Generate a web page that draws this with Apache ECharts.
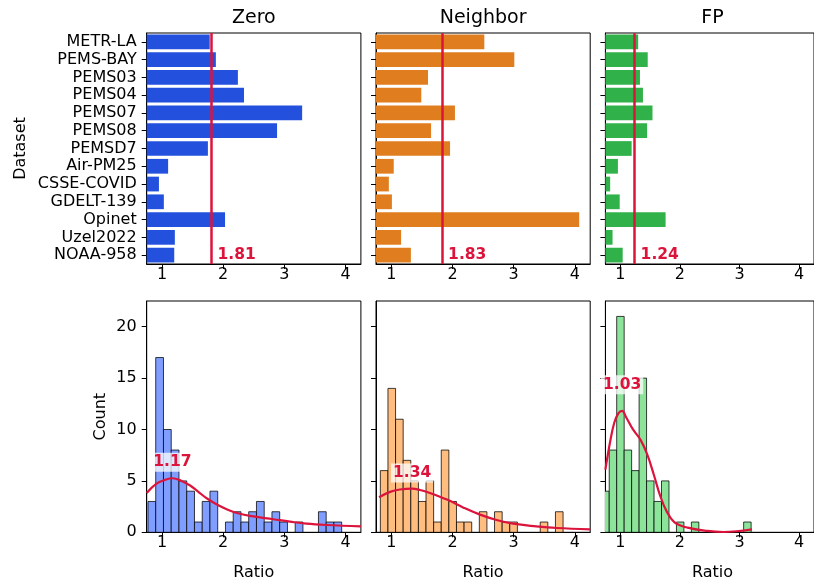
<!DOCTYPE html>
<html>
<head>
<meta charset="utf-8">
<script src="https://cdn.jsdelivr.net/npm/echarts@6/dist/echarts.min.js"></script>
<style>
  html, body { margin: 0; padding: 0; background: #fff; }
  #chart { width: 814px; height: 585px; }
</style>
</head>
<body>
<div id="chart"></div>
<script>
// ---- data ----------------------------------------------------------------
const datasets = ['METR-LA', 'PEMS-BAY', 'PEMS03', 'PEMS04', 'PEMS07', 'PEMS08', 'PEMSD7',
  'Air-PM25', 'CSSE-COVID', 'GDELT-139', 'Opinet', 'Uzel2022', 'NOAA-958'];
const methods = ['Zero', 'Neighbor', 'FP'];

// per-dataset ratio for each imputation method
const zeroRatio     = [1.78, 1.88, 2.24, 2.34, 3.29, 2.88, 1.75, 1.10, 0.95, 1.03, 2.03, 1.21, 1.20];
const neighborRatio = [2.52, 3.01, 1.60, 1.49, 2.04, 1.65, 1.96, 1.04, 0.96, 1.01, 4.07, 1.16, 1.32];
const fpRatio       = [1.30, 1.46, 1.33, 1.38, 1.54, 1.45, 1.19, 0.96, 0.83, 0.99, 1.76, 0.87, 1.04];
const meanRatio     = [1.81, 1.83, 1.24];

const ratioTicks = [1, 2, 3, 4];
const countTicks = [0, 5, 10, 15, 20];

// histograms of all ratios: first bin edge, bin width, counts per bin
const zeroBinStart = 0.771, zeroBinWidth = 0.1266;
const zeroCounts = [3, 17, 10, 8, 5, 4, 1, 3, 4, 0, 1, 2, 1, 2, 3, 1, 2, 1, 0, 1, 0, 0, 2, 1, 1];
const neighborBinStart = 0.821, neighborBinWidth = 0.1244;
const neighborCounts = [6, 14, 11, 7, 5, 3, 5, 1, 8, 3, 1, 1, 0, 2, 0, 2, 1, 1, 0, 0, 0, 1, 0, 2];
const fpBinStart = 0.689, fpBinWidth = 0.1253;
const fpCounts = [4, 8, 21, 8, 6, 15, 5, 3, 5, 0, 1, 0, 1, 0, 0, 0, 0, 0, 0, 1];

// density curves (scaled to counts)
const zeroKde = [[0.75, 3.83], [0.91, 4.74], [1.05, 5.10], [1.17, 5.26], [1.32, 5.00], [1.46, 4.55],
  [1.59, 3.96], [1.73, 3.31], [1.92, 2.63], [2.17, 1.98], [2.44, 1.59], [2.82, 1.27], [3.09, 1.04],
  [3.36, 0.84], [3.69, 0.71], [4.25, 0.58]];
const neighborKde = [[0.80, 3.41], [0.98, 3.93], [1.14, 4.16], [1.34, 4.25], [1.47, 4.12], [1.63, 3.83],
  [1.91, 3.18], [2.18, 2.40], [2.45, 1.72], [2.72, 1.20], [2.99, 0.84], [3.37, 0.58], [3.70, 0.42],
  [4.25, 0.29]];
const fpKde = [[0.75, 6.10], [0.83, 8.83], [0.90, 10.68], [0.97, 11.59], [1.03, 11.82], [1.10, 11.17],
  [1.21, 10.03], [1.34, 8.99], [1.45, 7.60], [1.56, 5.65], [1.67, 3.54], [1.78, 2.01], [1.91, 0.97],
  [2.13, 0.45], [2.46, 0.13], [2.73, 0.03], [2.95, 0.10], [3.21, 0.29]];
const kdePeak = [[1.17, 5.26], [1.34, 4.25], [1.03, 11.82]];

// ---- styling ---------------------------------------------------------------
const FONT = 'DejaVu Sans';
const CRIMSON = '#dc143c';
const barColors = ['#2351dd', '#e07e1f', '#30b14a'];
const histColors = ['#809eff', '#ffbd80', '#8ce49b'];
const panelLeft = [146.7, 376.0, 605.4];
const panelWidth = 214.2;
const rows = [{ top: 33, height: 231 }, { top: 301, height: 231.3 }];
const peakLabelLift = [6.5, 6, 16.5];

const ratioSets = [zeroRatio, neighborRatio, fpRatio];
const hists = [
  { start: zeroBinStart, width: zeroBinWidth, counts: zeroCounts, kde: zeroKde },
  { start: neighborBinStart, width: neighborBinWidth, counts: neighborCounts, kde: neighborKde },
  { start: fpBinStart, width: fpBinWidth, counts: fpCounts, kde: fpKde }
];

const axisLineStyle = { show: true, onZero: false, lineStyle: { color: '#000', width: 1 } };
const tickStyle = { color: '#000', width: 1 };
const tickLabel = { color: '#000', fontSize: 16, fontFamily: FONT };
const valueLabel = { color: CRIMSON, fontWeight: 'bold', fontSize: 15.5, fontFamily: FONT };

const grid = [], xAxis = [], yAxis = [], series = [];

rows.forEach((row, r) => {
  panelLeft.forEach((left, c) => {
    const gi = r * 3 + c;
    grid.push({
      left: left, top: row.top, width: panelWidth, height: row.height,
      show: true, borderColor: '#000', borderWidth: 1, backgroundColor: '#fff'
    });
    xAxis.push({
      type: 'value', gridIndex: gi, min: 0.75, max: 4.25,
      axisLine: axisLineStyle,
      axisTick: { show: true, length: 5, customValues: ratioTicks, lineStyle: tickStyle },
      axisLabel: Object.assign({ customValues: ratioTicks, margin: 3 }, tickLabel),
      splitLine: { show: false }
    });
    if (r === 0) {
      yAxis.push({
        type: 'category', gridIndex: gi, data: datasets, inverse: true,
        axisLine: axisLineStyle,
        axisTick: { show: true, length: 5, alignWithLabel: true, lineStyle: tickStyle },
        axisLabel: Object.assign({ show: c === 0, margin: 10, interval: 0 }, tickLabel),
        splitLine: { show: false }
      });
    } else {
      yAxis.push({
        type: 'value', gridIndex: gi, min: 0, max: 22.5,
        axisLine: axisLineStyle,
        axisTick: { show: true, length: 5, customValues: countTicks, lineStyle: tickStyle },
        axisLabel: Object.assign({ show: c === 0, customValues: countTicks, margin: 10 }, tickLabel),
        splitLine: { show: false }
      });
    }
  });
});

// top row: per-dataset bars with mean line
methods.forEach((m, c) => {
  series.push({
    name: m, type: 'bar', xAxisIndex: c, yAxisIndex: c,
    data: ratioSets[c], barWidth: '83%',
    itemStyle: { color: barColors[c] },
    markLine: {
      silent: true, animation: false, symbol: ['none', 'none'],
      label: { show: false },
      lineStyle: { color: CRIMSON, width: 2.5, type: 'solid', opacity: 1 },
      emphasis: { disabled: true },
      data: [{ xAxis: meanRatio[c] }]
    }
  });
  series.push({
    type: 'scatter', xAxisIndex: c, yAxisIndex: c, z: 5, silent: true,
    data: [[meanRatio[c], datasets[datasets.length - 1]]],
    symbolSize: 0, itemStyle: { color: CRIMSON, opacity: 1 },
    label: Object.assign({
      show: true, position: 'right', distance: 6,
      formatter: meanRatio[c].toFixed(2)
    }, valueLabel)
  });
});

// bottom row: histogram, density curve and peak label
hists.forEach((h, c) => {
  const gi = 3 + c;
  series.push({
    type: 'custom', xAxisIndex: gi, yAxisIndex: gi, clip: true, silent: true,
    data: h.counts.map((n, i) => [h.start + i * h.width, h.start + (i + 1) * h.width, n]),
    encode: { x: [0, 1], y: 2 },
    renderItem: function (params, api) {
      const n = api.value(2);
      if (!n) return null;
      const a = api.coord([api.value(0), n]);
      const b = api.coord([api.value(1), 0]);
      return {
        type: 'rect',
        shape: { x: a[0], y: a[1], width: b[0] - a[0], height: b[1] - a[1] },
        style: { fill: histColors[c], stroke: 'rgba(0,0,0,0.75)', lineWidth: 1 }
      };
    }
  });
  series.push({
    type: 'line', xAxisIndex: gi, yAxisIndex: gi, data: h.kde, z: 3, silent: true,
    smooth: 0.4, symbol: 'none', clip: true,
    lineStyle: { color: CRIMSON, width: 2.2, opacity: 1 }
  });
  series.push({
    type: 'scatter', xAxisIndex: gi, yAxisIndex: gi, z: 6, silent: true,
    data: [kdePeak[c]], symbolSize: 0, itemStyle: { color: CRIMSON, opacity: 1 },
    label: Object.assign({
      show: true, position: 'top', distance: peakLabelLift[c],
      formatter: kdePeak[c][0].toFixed(2),
      backgroundColor: 'rgba(255,255,255,0.75)', padding: [1, 2], lineHeight: 17
    }, valueLabel)
  });
});

// titles and axis names
const centers = panelLeft.map(l => l + panelWidth / 2);
const txt = (text, x, y, size, rot) => ({
  type: 'text', x: x, y: y, rotation: rot || 0, z: 100, silent: true,
  style: {
    text: text, fill: '#000', font: size + 'px "' + FONT + '"',
    align: 'center', verticalAlign: 'middle',
    textAlign: 'center', textVerticalAlign: 'middle'
  }
});
const graphic = [];
methods.forEach((m, c) => graphic.push(txt(m, centers[c], 18.5, 19)));
centers.forEach(x => graphic.push(txt('Ratio', x, 572.8, 16)));
graphic.push(txt('Dataset', 21.1, 148.5, 16, Math.PI / 2));
graphic.push(txt('Count', 100.8, 416.7, 16, Math.PI / 2));

const chart = echarts.init(document.getElementById('chart'), null, { renderer: 'canvas' });
chart.setOption({
  animation: false,
  backgroundColor: '#fff',
  textStyle: { fontFamily: FONT },
  grid: grid, xAxis: xAxis, yAxis: yAxis, series: series, graphic: graphic
});
</script>
</body>
</html>
